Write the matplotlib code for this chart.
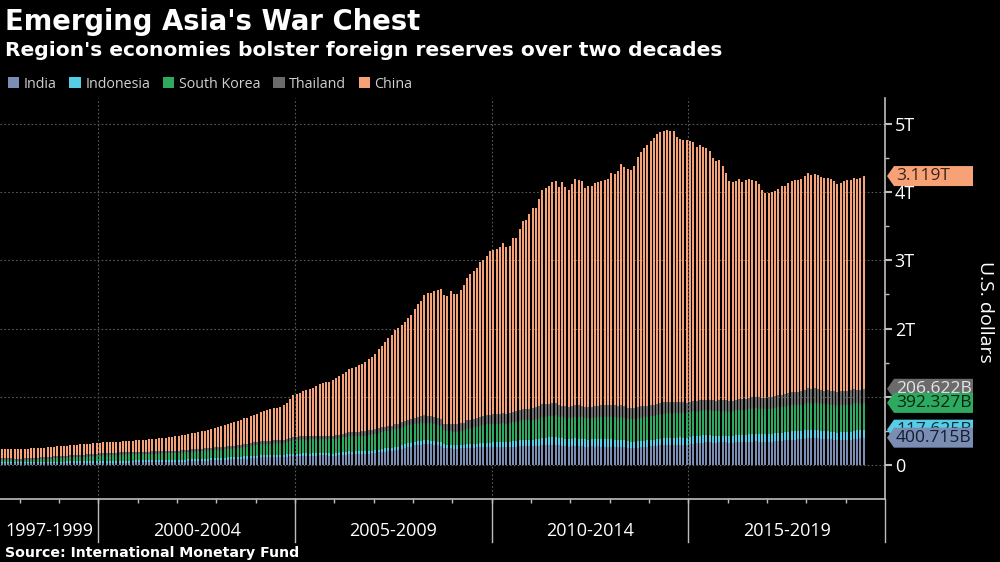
import numpy as np
import matplotlib.pyplot as plt
from matplotlib.patches import Polygon, Patch
from matplotlib.transforms import blended_transform_factory

# monthly reserves, Jul 1997 - Jun 2019, billions of USD
india = sum([
    [25, 25, 25, 25, 24, 25],
    [25, 26, 26, 26, 25, 25, 25, 25, 26, 26, 26, 27],
    [27, 28, 30, 30, 30, 30, 30, 30, 30, 31, 32, 33],
    [34, 35, 35, 35, 35, 35, 35, 34, 34, 35, 37, 38],
    [39, 40, 42, 42, 43, 43, 43, 44, 44, 45, 46, 46],
    [48, 50, 51, 53, 54, 55, 57, 58, 60, 63, 66, 68],
    [70, 72, 76, 78, 81, 82, 86, 88, 92, 95, 98, 100],
    [104, 110, 113, 114, 115, 116, 117, 118, 118, 121, 126, 127],
    [128, 132, 136, 136, 134, 136, 138, 141, 142, 140, 136, 132],
    [136, 141, 145, 153, 157, 157, 157, 158, 158, 159, 168, 170],
    [176, 184, 193, 196, 199, 206, 218, 218, 238, 254, 268, 267],
    [288, 293, 299, 304, 305, 302, 296, 287, 278, 253, 246, 247],
    [241, 240, 242, 242, 253, 255, 256, 257, 264, 266, 265, 265],
    [264, 266, 265, 265, 266, 268, 270, 268, 276, 279, 277, 275],
    [276, 281, 281, 290, 291, 291, 295, 294, 287, 279, 275, 271],
    [276, 282, 280, 272, 268, 270, 273, 270, 272, 271, 270, 270],
    [270, 268, 270, 270, 262, 256, 251, 253, 256, 259, 266, 268],
    [273, 273, 281, 286, 288, 292, 291, 293, 292, 296, 297, 296],
    [304, 313, 317, 322, 327, 331, 330, 328, 327, 330, 330, 330],
    [324, 325, 332, 338, 336, 338, 343, 344, 347, 342, 340, 337],
    [337, 340, 349, 352, 355, 361, 366, 370, 373, 374, 375, 384],
    [392, 391, 397, 393, 388, 382, 381, 375, 371, 365, 368, 370],
    [369, 371, 385, 388, 390, 400.715],
], [])

indonesia = sum([
    [20, 21, 21, 20, 19, 17],
    [16, 16, 16, 17, 17, 18, 18, 18, 19, 20, 21, 22],
    [22, 22, 22, 23, 23, 24, 24, 24, 25, 26, 26, 26],
    [26, 26, 27, 27, 28, 28, 28, 28, 28, 28, 28, 28],
    [28, 28, 27, 27, 27, 27, 27, 26, 26, 26, 26, 27],
    [27, 27, 28, 28, 29, 29, 29, 30, 30, 30, 30, 30],
    [31, 31, 32, 32, 32, 33, 33, 33, 33, 34, 34, 35],
    [35, 35, 35, 35, 35, 34, 34, 34, 34, 34, 35, 35],
    [35, 35, 35, 34, 34, 33, 32, 31, 30, 32, 33, 33],
    [34, 35, 41, 42, 42, 40, 41, 41, 42, 42, 41, 41],
    [42, 43, 44, 49, 50, 50, 51, 51, 52, 53, 54, 55],
    [55, 55, 58, 59, 57, 57, 57, 56, 55, 49, 49, 50],
    [49, 49, 53, 54, 56, 56, 57, 57, 61, 63, 64, 64],
    [68, 68, 70, 79, 72, 75, 77, 80, 84, 88, 90, 93],
    [93, 100, 102, 108, 112, 117, 120, 122, 112, 111, 108, 106],
    [106, 109, 108, 111, 109, 103, 102, 106, 106, 108, 108, 107],
    [104, 102, 101, 103, 101, 95, 90, 90, 92, 94, 93, 96],
    [97, 99, 99, 100, 104, 103, 106, 106, 107, 108, 106, 107],
    [110, 111, 107, 105, 106, 104, 103, 100, 97, 96, 95, 101],
    [97, 99, 102, 101, 99, 105, 107, 108, 111, 110, 108, 111],
    [112, 114, 116, 119, 119, 118, 122, 122, 124, 121, 120, 125],
    [127, 123, 122, 120, 117, 113, 113, 112, 109, 109, 112, 114],
    [114, 118, 119, 118, 116, 117.625],
], [])

korea = sum([
    [33, 30, 29, 29, 24, 20],
    [23, 28, 29, 35, 38, 40, 42, 44, 46, 48, 50, 52],
    [54, 55, 56, 60, 61, 63, 65, 65, 67, 68, 71, 74],
    [77, 80, 83, 84, 86, 88, 89, 90, 92, 93, 94, 96],
    [95, 95, 95, 96, 96, 96, 98, 100, 101, 102, 102, 102],
    [103, 104, 105, 107, 109, 111, 113, 114, 115, 117, 119, 121],
    [121, 121, 122, 124, 126, 128, 131, 134, 137, 141, 147, 155],
    [156, 159, 161, 162, 165, 166, 166, 167, 170, 179, 186, 199],
    [200, 202, 203, 203, 206, 206, 207, 208, 206, 207, 208, 210],
    [213, 214, 218, 221, 222, 225, 226, 227, 229, 231, 235, 239],
    [240, 243, 244, 247, 248, 250, 254, 255, 258, 261, 261, 262],
    [260, 259, 262, 259, 257, 256, 246, 242, 236, 209, 200, 200],
    [200, 200, 206, 212, 226, 231, 237, 244, 253, 263, 270, 269],
    [273, 269, 272, 277, 269, 273, 285, 284, 289, 292, 290, 291],
    [295, 297, 298, 307, 305, 304, 310, 311, 302, 310, 308, 306],
    [311, 315, 315, 316, 308, 311, 313, 316, 321, 325, 324, 326],
    [328, 327, 325, 328, 326, 323, 327, 329, 336, 342, 344, 344],
    [348, 351, 354, 356, 363, 364, 367, 367, 362, 364, 362, 361],
    [363, 361, 359, 368, 371, 373, 370, 370, 369, 371, 370, 366],
    [363, 363, 366, 369, 367, 367, 371, 372, 374, 372, 369, 368],
    [371, 372, 373, 374, 376, 378, 381, 382, 382, 383, 385, 386],
    [393, 393, 396, 397, 396, 396, 398, 398, 398, 396, 399, 399],
    [399, 398, 398, 396, 395, 392.327],
], [])

thailand = sum([
    [31, 26, 28, 29, 26, 26],
    [26, 27, 27, 26, 26, 26, 26, 27, 27, 28, 28, 29],
    [29, 29, 30, 31, 31, 32, 32, 33, 33, 33, 34, 34],
    [34, 34, 33, 32, 32, 32, 32, 32, 32, 32, 32, 32],
    [32, 32, 32, 32, 32, 32, 32, 32, 33, 33, 33, 33],
    [33, 34, 34, 35, 36, 36, 37, 37, 37, 38, 38, 38],
    [39, 39, 39, 40, 40, 40, 40, 40, 40, 40, 41, 41],
    [42, 43, 43, 43, 44, 44, 44, 45, 46, 47, 48, 49],
    [49, 49, 49, 50, 48, 48, 48, 49, 49, 50, 51, 51],
    [52, 54, 56, 58, 60, 61, 61, 62, 63, 63, 64, 65],
    [66, 67, 69, 70, 70, 72, 75, 77, 78, 80, 82, 85],
    [90, 100, 106, 107, 106, 104, 104, 102, 100, 97, 102, 108],
    [109, 111, 113, 115, 119, 120, 123, 126, 129, 131, 132, 135],
    [137, 139, 140, 144, 146, 147, 152, 154, 158, 162, 165, 167],
    [171, 173, 178, 183, 184, 179, 179, 178, 172, 171, 168, 165],
    [170, 172, 171, 170, 168, 168, 167, 168, 169, 171, 172, 172],
    [176, 177, 174, 174, 170, 165, 163, 163, 164, 164, 162, 161],
    [160, 163, 164, 163, 163, 163, 162, 160, 156, 157, 154, 151],
    [154, 155, 153, 155, 153, 152, 150, 150, 149, 151, 153, 150],
    [152, 154, 158, 160, 159, 162, 166, 168, 170, 168, 165, 166],
    [171, 175, 176, 179, 181, 183, 187, 191, 195, 198, 199, 202],
    [212, 212, 213, 210, 205, 201, 201, 201, 202, 199, 200, 201],
    [202, 206, 205, 203, 203, 206.622],
], [])

china = sum([
    [126, 129, 131, 134, 137, 140],
    [140, 140, 141, 141, 141, 141, 141, 141, 141, 142, 143, 145],
    [146, 146, 147, 148, 148, 149, 150, 150, 151, 152, 154, 155],
    [155, 156, 157, 157, 158, 159, 159, 161, 162, 163, 164, 166],
    [168, 171, 175, 180, 182, 186, 190, 194, 196, 201, 205, 212],
    [216, 220, 228, 234, 238, 243, 249, 255, 258, 264, 273, 286],
    [298, 307, 316, 326, 332, 347, 357, 364, 384, 385, 393, 403],
    [416, 431, 440, 451, 455, 471, 482, 490, 515, 527, 566, 610],
    [624, 642, 659, 670, 691, 711, 733, 753, 769, 781, 794, 819],
    [845, 854, 875, 895, 925, 941, 954, 972, 988, 1010, 1040, 1066],
    [1105, 1157, 1202, 1246, 1292, 1333, 1385, 1409, 1434, 1455, 1497, 1528],
    [1590, 1647, 1682, 1757, 1797, 1809, 1845, 1884, 1906, 1880, 1885, 1946],
    [1913, 1912, 1954, 2009, 2089, 2132, 2175, 2211, 2273, 2283, 2331, 2399],
    [2415, 2425, 2447, 2490, 2440, 2454, 2538, 2548, 2648, 2760, 2768, 2847],
    [2932, 2914, 3045, 3145, 3166, 3198, 3245, 3263, 3202, 3274, 3221, 3181],
    [3254, 3309, 3305, 3299, 3206, 3240, 3240, 3273, 3285, 3287, 3298, 3312],
    [3410, 3395, 3443, 3535, 3515, 3497, 3500, 3553, 3663, 3736, 3790, 3821],
    [3867, 3914, 3948, 3981, 3984, 3993, 3966, 3969, 3888, 3853, 3847, 3843],
    [3813, 3802, 3730, 3748, 3711, 3694, 3651, 3557, 3514, 3525, 3438, 3330],
    [3231, 3202, 3213, 3220, 3192, 3205, 3201, 3185, 3166, 3121, 3052, 3011],
    [2998, 3005, 3009, 3030, 3054, 3057, 3081, 3092, 3109, 3109, 3119, 3140],
    [3161, 3134, 3143, 3125, 3111, 3112, 3118, 3110, 3087, 3053, 3062, 3073],
    [3088, 3090, 3099, 3095, 3101, 3119.2],
], [])

names = ['India', 'Indonesia', 'South Korea', 'Thailand', 'China']
colors = ['#7a8db3', '#56cde6', '#2daa60', '#6b6b6b', '#f7a276']
text_colors = ['#141d30', '#0d2a33', '#0a2414', '#e6e6e6', '#3d2418']
last_labels = ['400.715B', '117.625B', '392.327B', '206.622B', '3.119T']
periods = ['1997-1999', '2000-2004', '2005-2009', '2010-2014', '2015-2019']
bounds_years = [1997.5, 2000, 2005, 2010, 2015, 2020]

start_year = 1997.5
series = [np.array(s) / 1000.0 for s in [india, indonesia, korea, thailand, china]]
n = len(china)
x = np.arange(n) + 0.5
bounds = [(y - start_year) * 12 for y in bounds_years]

plt.rcParams['font.family'] = ['Open Sans', 'DejaVu Sans']
fig = plt.figure(figsize=(10, 5.62), dpi=100, facecolor='black')
ax = fig.add_axes([0.0, 63 / 562, 0.885, 401 / 562], facecolor='black')

bottom = np.zeros(n)
for s, c in zip(series, colors):
    ax.bar(x, s, bottom=bottom, width=0.62, color=c, linewidth=0, zorder=2)
    bottom = bottom + s

ymin, ymax = -0.4985, 5.381
ax.set_xlim(0, bounds[-1])
ax.set_ylim(ymin, ymax)

for v in range(0, 6):
    ax.axhline(v, color='#5a5a5a', lw=0.8, ls=(0, (1.5, 2)), zorder=1)
for b in bounds[1:-1]:
    ax.axvline(b, color='#5a5a5a', lw=0.8, ls=(0, (1.5, 2)), zorder=1)

for sp in ['top', 'left']:
    ax.spines[sp].set_visible(False)
ax.spines['bottom'].set_color('#bdbdbd')
ax.spines['right'].set_color('#bdbdbd')
ax.spines['bottom'].set_linewidth(1.2)
ax.spines['right'].set_linewidth(1.2)

ax.yaxis.tick_right()
ax.set_yticks(range(0, 6))
ax.set_yticklabels(['0', '1T', '2T', '3T', '4T', '5T'])
ax.set_yticks(np.arange(0.5, 5.5, 1), minor=True)
ax.tick_params(axis='y', which='major', colors='#bdbdbd', labelcolor='white',
               labelsize=13, length=5, width=1.5, pad=2)
ax.tick_params(axis='y', which='minor', colors='#bdbdbd', length=3, width=1)

year_ticks = [(y - start_year) * 12 for y in range(1998, 2020)]
ax.set_xticks(year_ticks)
ax.set_xticklabels([])
ax.tick_params(axis='x', colors='#bdbdbd', length=3, width=1)

trans = blended_transform_factory(ax.transData, ax.transAxes)
for b in bounds[1:]:
    ax.plot([b, b], [0, -43 / 401], color='#bdbdbd', lw=1, transform=trans, clip_on=False)
for i, p in enumerate(periods):
    ax.text((bounds[i] + bounds[i + 1]) / 2, -32 / 401, p, transform=trans,
            ha='center', va='center', color='white', fontsize=13)

# titles
fig.text(0.005, 1 - 30 / 562, "Emerging Asia's War Chest", color='white', fontsize=19.8,
         fontweight='bold', family='DejaVu Sans', va='baseline')
fig.text(0.005, 1 - 56 / 562, "Region's economies bolster foreign reserves over two decades",
         color='white', fontsize=14.6, fontweight='bold', family='DejaVu Sans', va='baseline')
fig.text(0.005, 1 - 557 / 562, 'Source: International Monetary Fund', color='white',
         fontsize=10.2, fontweight='bold', family='DejaVu Sans', va='baseline')
fig.text(0.985, 1 - 312 / 562, 'U.S. dollars', color='white', fontsize=14,
         rotation=270, ha='center', va='center')

handles = [Patch(facecolor=c, edgecolor='none') for c in colors]
fig.legend(handles, names, loc='center left', bbox_to_anchor=(0.008, 1 - 84 / 562),
           ncol=5, frameon=False, fontsize=10.3, labelcolor='#d0d0d0',
           handlelength=0.8, handleheight=0.8, handletextpad=0.3,
           columnspacing=0.9, borderaxespad=0, borderpad=0)

# value tags at the top of each layer of the last bar
tops = np.cumsum([s[-1] for s in series])
inv = fig.transFigure.inverted()
order = [4, 3, 2, 1, 0]
for k, i in enumerate(order):
    yc = ax.transData.transform((0, tops[i]))[1]
    pts = [(887, yc), (894, yc + 10), (973, yc + 10), (973, yc - 10), (894, yc - 10)]
    pts = inv.transform(pts)
    fig.add_artist(Polygon(pts, closed=True, facecolor=colors[i], edgecolor='none',
                           transform=fig.transFigure, zorder=10 + 2 * k))
    tx, ty = inv.transform((896, yc))
    fig.text(tx, ty, last_labels[i], color=text_colors[i], fontsize=12.5,
             ha='left', va='center', zorder=11 + 2 * k)

fig.savefig('out.png', dpi=100, facecolor='black')
